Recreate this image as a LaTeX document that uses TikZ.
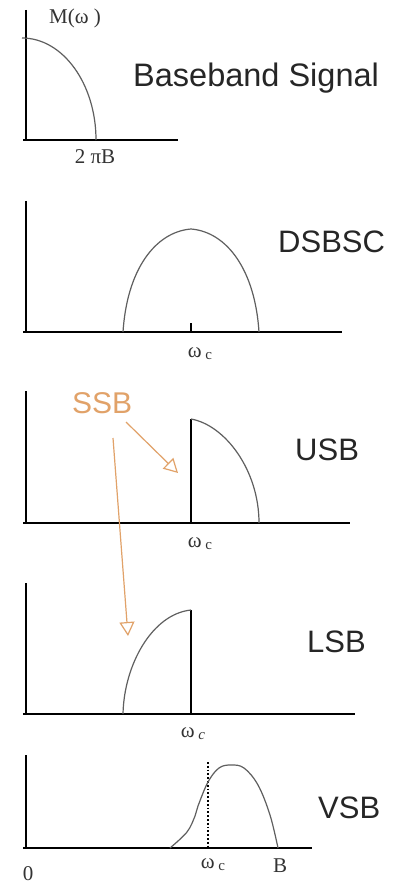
\documentclass[tikz,border=0pt]{standalone}
\usepackage{fontspec}
\setmainfont{Liberation Serif}
\newfontfamily\sansf{Liberation Sans}
\usetikzlibrary{arrows.meta}
\definecolor{curvegray}{RGB}{95,95,95}
\definecolor{ssborange}{RGB}{225,162,105}
\tikzset{
  axis/.style={line width=1.8pt, black},
  spec/.style={line width=1.2pt, curvegray},
  edgeline/.style={line width=1.8pt, black},
  title/.style={font=\sansf\fontsize{31}{31}\selectfont, anchor=base west, inner sep=0pt, text=black!85},
  lbl/.style={font=\fontsize{21}{21}\selectfont, anchor=base, inner sep=0pt, text=black!80},
  ssbarrow/.style={line width=1.2pt, ssborange, -{Triangle[open, length=14pt, width=15pt]}},
}
\newcommand{\wc}[1][\upshape]{ω\raisebox{-0.3ex}{\fontsize{15}{15}\selectfont#1 c}}
\begin{document}
\begin{tikzpicture}[x=1pt, y=-1pt]
\useasboundingbox (0,0) rectangle (397,885);
\fill[white] (0,0) rectangle (397,885);

% ---------- Panel 1: baseband ----------
\draw[axis] (26,10) -- (26,140);
\draw[axis] (23,140) -- (178,140);
\draw[spec] (22,38) .. controls (63,38) and (96,84) .. (96,140);
\node[lbl] (mw) at (75,24) {M(ω )};
\node[lbl] (twopib) at (95,164) {2 πB};
\node[title, font=\sansf\fontsize{32.5}{32.5}\selectfont] (bb) at (133,87) {Baseband Signal};

% ---------- Panel 2: DSBSC ----------
\draw[axis] (26,201) -- (26,332);
\draw[axis] (23,332) -- (342,332);
\draw[line width=1.6pt] (191,332) -- (191,323);
\draw[spec] (123,332) .. controls (127,270) and (155,232) .. (191,229)
                      .. controls (227,232) and (255,270) .. (259,332);
\node[lbl] (wc1) at (200,357) {\wc};
\node[title] (dsb) at (278,252) {DSBSC};

% ---------- Panel 3: USB ----------
\draw[axis] (26,391) -- (26,523);
\draw[axis] (23,523) -- (350,523);
\draw[edgeline] (191,419) -- (191,523);
\draw[spec] (191,419) .. controls (225,425) and (259,470) .. (259,523);
\node[lbl] (wc2) at (200,547) {\wc};
\node[title] (usb) at (295,460) {USB};

% ---------- Panel 4: LSB ----------
\draw[axis] (26,583) -- (26,714);
\draw[axis] (23,714) -- (355,714);
\draw[edgeline] (191,610) -- (191,714);
\draw[spec] (123,714) .. controls (124,665) and (152,614) .. (191,610);
\node[lbl] (wc3) at (193,737) {\wc[\itshape]};
\node[title] (lsb) at (307,652) {LSB};

% ---------- Panel 5: VSB ----------
\draw[axis] (26,755) -- (26,848);
\draw[axis] (23,848) -- (312,848);
\draw[line width=1.8pt, dotted] (208,762) -- (208,848);
\draw[spec] plot[smooth, tension=0.6] coordinates {(170,848) (187,832) (195,816) (198,806) (208,782) (219,768) (231,765) (244,768) (258,785) (270,815) (278,848)};
\node[lbl] (wc4) at (213,868) {\wc};
\node[lbl] (bl) at (280,872) {B};
\node[lbl] (zero) at (28,880) {0};
\node[title] (vsb) at (318,818) {VSB};

% ---------- SSB annotation ----------
\node[font=\sansf\fontsize{30}{30}\selectfont, anchor=base west, inner sep=0pt, text=ssborange] (ssb) at (72,413) {SSB};
\coordinate (a1s) at (126,422);
\coordinate (a1e) at (178,473);
\coordinate (a2s) at (113,438);
\coordinate (a2e) at (128,636);
\draw[ssbarrow] (a1s) -- (a1e);
\draw[ssbarrow] (a2s) -- (a2e);
\end{tikzpicture}
\end{document}
